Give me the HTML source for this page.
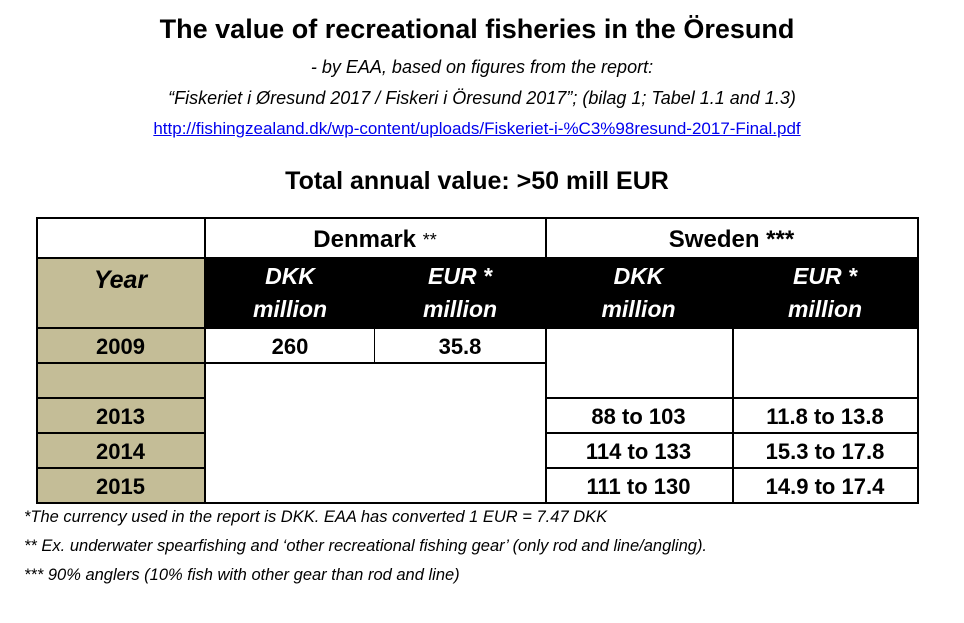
<!DOCTYPE html>
<html><head><meta charset="utf-8"><style>
body{margin:0;background:#fff;width:964px;height:623px;position:relative;overflow:hidden;font-family:"Liberation Sans",sans-serif;color:#000}
.t{position:absolute;white-space:nowrap;text-align:center}
.c{position:absolute;box-sizing:border-box;display:flex;align-items:center;justify-content:center;text-align:center;font-weight:bold;white-space:nowrap}
.tan{background:#c4bd97}
.blk{background:#000;color:#fff;font-style:italic;flex-direction:column;line-height:33px;font-size:23px}
.h{position:absolute;background:#000;height:2px}
.v{position:absolute;background:#000;width:2px}
.fn{position:absolute;left:24px;font-style:italic;font-size:16.5px;white-space:nowrap}
</style></head><body>
<div class="t" style="left:0;width:954px;top:14px;font-size:27px;font-weight:bold">The value of recreational fisheries in the Öresund</div>
<div class="t" style="left:0;width:964px;top:57px;font-size:18px;font-style:italic">- by EAA, based on figures from the report:</div>
<div class="t" style="left:0;width:964px;top:88px;font-size:18px;font-style:italic">“Fiskeriet i Øresund 2017 / Fiskeri i Öresund 2017”; (bilag 1; Tabel 1.1 and 1.3)</div>
<div class="t" style="left:0;width:954px;top:119px;font-size:17px;color:#0000ee;text-decoration:underline">http://fishingzealand.dk/wp-content/uploads/Fiskeriet-i-%C3%98resund-2017-Final.pdf</div>
<div class="t" style="left:0;width:954px;top:167px;font-size:25px;font-weight:bold">Total annual value: &gt;50 mill EUR</div>

<div class="c" style="left:205px;top:220px;width:340px;height:40px;font-size:24px;font-weight:normal"><b>Denmark</b>&nbsp;<span style="font-size:18px">**</span></div>
<div class="c" style="left:545px;top:220px;width:373px;height:40px;font-size:24px">Sweden ***</div>
<div class="c tan" style="left:36px;top:258px;width:169px;height:245px"></div>
<div class="c" style="left:36px;top:262px;width:169px;height:36px;font-size:25px;font-style:italic">Year</div>
<div class="c blk" style="left:205px;top:258px;width:713px;height:70px;background:#000"></div>
<div class="c blk" style="left:205px;top:258px;width:170px;height:70px"><span>DKK</span><span>million</span></div>
<div class="c blk" style="left:375px;top:258px;width:170px;height:70px"><span>EUR *</span><span>million</span></div>
<div class="c blk" style="left:545px;top:258px;width:187px;height:70px"><span>DKK</span><span>million</span></div>
<div class="c blk" style="left:732px;top:258px;width:186px;height:70px"><span>EUR *</span><span>million</span></div>

<div class="c" style="left:36px;top:329px;width:169px;height:35px;font-size:22px">2009</div>
<div class="c" style="left:205px;top:329px;width:170px;height:35px;font-size:22px">260</div>
<div class="c" style="left:375px;top:329px;width:170px;height:35px;font-size:22px">35.8</div>
<div class="c" style="left:36px;top:399px;width:169px;height:35px;font-size:22px">2013</div>
<div class="c" style="left:36px;top:434px;width:169px;height:35px;font-size:22px">2014</div>
<div class="c" style="left:36px;top:469px;width:169px;height:35px;font-size:22px">2015</div>
<div class="c" style="left:545px;top:399px;width:187px;height:35px;font-size:22px">88 to 103</div>
<div class="c" style="left:545px;top:434px;width:187px;height:35px;font-size:22px">114 to 133</div>
<div class="c" style="left:545px;top:469px;width:187px;height:35px;font-size:22px">111 to 130</div>
<div class="c" style="left:732px;top:399px;width:186px;height:35px;font-size:22px">11.8 to 13.8</div>
<div class="c" style="left:732px;top:434px;width:186px;height:35px;font-size:22px">15.3 to 17.8</div>
<div class="c" style="left:732px;top:469px;width:186px;height:35px;font-size:22px">14.9 to 17.4</div>

<div class="h" style="left:36px;top:217px;width:883px"></div>
<div class="h" style="left:36px;top:257px;width:883px"></div>
<div class="h" style="left:36px;top:327px;width:883px"></div>
<div class="h" style="left:36px;top:362px;width:510px"></div>
<div class="h" style="left:36px;top:397px;width:170px"></div>
<div class="h" style="left:545px;top:397px;width:374px"></div>
<div class="h" style="left:36px;top:432px;width:170px"></div>
<div class="h" style="left:545px;top:432px;width:374px"></div>
<div class="h" style="left:36px;top:467px;width:170px"></div>
<div class="h" style="left:545px;top:467px;width:374px"></div>
<div class="h" style="left:36px;top:502px;width:883px"></div>
<div class="v" style="left:36px;top:217px;height:287px"></div>
<div class="v" style="left:204px;top:217px;height:287px"></div>
<div class="v" style="left:374px;top:328px;height:35px;width:1px"></div>
<div class="v" style="left:545px;top:217px;height:287px"></div>
<div class="v" style="left:732px;top:328px;height:175px"></div>
<div class="v" style="left:917px;top:217px;height:287px"></div>

<div class="fn" style="top:508px">*The currency used in the report is DKK. EAA has converted 1 EUR = 7.47 DKK</div>
<div class="fn" style="top:537px">** Ex. underwater spearfishing and ‘other recreational fishing gear’ (only rod and line/angling).</div>
<div class="fn" style="top:566px">*** 90% anglers (10% fish with other gear than rod and line)</div>
</body></html>
